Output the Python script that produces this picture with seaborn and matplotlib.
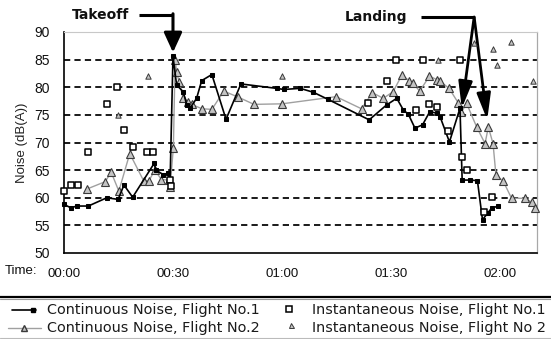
import matplotlib
matplotlib.use("Agg")
import matplotlib.pyplot as plt
from matplotlib.lines import Line2D
import numpy as np
import pandas as pd
import seaborn as sns

# ---- data: time in minutes after the start of recording, noise in dB(A) ----
cont1_time = [0.0, 1.8, 3.7, 6.7, 11.8, 14.9, 16.5, 18.9, 24.8, 25.3, 27.3, 28.7, 29.2,
              30.0, 31.0, 32.8, 33.8, 34.7, 36.5, 37.9, 40.7, 44.6, 48.7, 58.5, 60.5,
              65.0, 68.6, 72.7, 84.0, 88.8, 91.6, 93.4, 94.8, 96.6, 98.7, 100.7, 102.6,
              103.5, 106.1, 109.0, 109.6, 111.8, 113.8, 115.2, 116.7, 117.7, 119.5]
cont1_noise = [58.8, 58.2, 58.5, 58.5, 60.0, 59.7, 62.3, 60.1, 66.2, 65.0, 64.2, 64.4, 62.9,
               85.6, 80.4, 79.2, 76.8, 76.2, 78.0, 81.2, 82.3, 74.2, 80.6, 79.8, 79.6,
               79.8, 79.1, 77.8, 74.1, 76.8, 78.0, 75.9, 75.1, 72.6, 73.2, 75.6, 75.3,
               74.7, 70.1, 76.2, 63.2, 63.2, 63.1, 56.0, 57.3, 58.1, 58.5]

cont2_time = [6.4, 11.3, 13.0, 15.1, 18.1, 21.9, 23.4, 25.0, 26.8, 28.9, 29.2, 30.1,
              30.6, 31.0, 31.7, 32.8, 34.1, 35.1, 38.0, 40.7, 44.0, 48.0, 52.3, 60.0,
              74.9, 81.9, 84.9, 87.9, 90.6, 93.0, 95.0, 96.0, 97.9, 100.6, 102.6, 103.5,
              106.0, 108.5, 109.4, 110.8, 113.6, 115.9, 116.8, 118.1, 118.9, 120.9,
              123.2, 126.9, 128.7, 129.6]
cont2_noise = [61.6, 62.9, 64.6, 61.2, 68.0, 63.1, 63.1, 65.0, 63.3, 63.2, 62.0, 69.0,
               85.0, 82.7, 81.0, 78.0, 77.3, 76.9, 76.1, 76.0, 79.3, 78.2, 76.9, 77.0,
               78.3, 76.1, 79.0, 78.0, 79.2, 82.2, 81.2, 80.8, 79.3, 82.0, 81.4, 81.1,
               79.8, 77.2, 75.5, 77.1, 72.8, 69.8, 72.8, 69.8, 64.1, 63.0,
               59.9, 59.9, 59.2, 58.1]

inst1_time = [0.0, 1.9, 3.9, 6.7, 11.8, 14.5, 16.6, 19.1, 22.8, 24.6, 29.2, 29.4,
              83.8, 88.8, 91.4, 96.8, 98.7, 100.6, 102.8, 105.8, 108.9, 109.5, 110.8,
              115.7, 117.7]
inst1_noise = [61.2, 62.3, 62.3, 68.2, 77.0, 80.0, 72.3, 69.1, 68.2, 68.2, 63.3, 62.2,
               77.1, 81.2, 85.0, 75.9, 85.0, 76.9, 76.5, 72.1, 85.0, 67.3, 65.0,
               57.5, 60.1]

inst2_time = [14.9, 23.0, 59.9, 103.0, 112.8, 118.0, 119.1, 123.0, 129.1]
inst2_noise = [75.0, 82.0, 82.0, 85.0, 88.0, 86.9, 84.0, 88.2, 81.1]

time_ticks = [0, 30, 60, 90, 120]
time_labels = ["00:00", "00:30", "01:00", "01:30", "02:00"]
noise_ticks = [50, 55, 60, 65, 70, 75, 80, 85, 90]

legend_labels = ["Continuous Noise, Flight No.1", "Continuous Noise, Flight No.2",
                 "Instantaneous Noise, Flight No.1", "Instantaneous Noise, Flight No 2"]

# ---- figure ----
sns.set_theme(style="white")
plt.rcParams["font.family"] = ["DejaVu Sans"]
plt.rcParams["lines.scale_dashes"] = False

W, H = 551, 339
fig = plt.figure(figsize=(W / 100, H / 100), dpi=100)
fig.patch.set_facecolor("white")


def fx(px):
    return px / W


def fy(py):
    return 1 - py / H


ax = fig.add_axes([fx(64), fy(253), fx(537) - fx(64), fy(32) - fy(253)])
ax.set_facecolor("white")

# dashed horizontal guides
for lvl in noise_ticks[1:-1]:
    ax.axhline(lvl, color="#1a1a1a", lw=1.4, ls=(0, (4.5, 3.0)), zorder=1)

df_c1 = pd.DataFrame({"time": cont1_time, "noise": cont1_noise})
df_c2 = pd.DataFrame({"time": cont2_time, "noise": cont2_noise})
df_i1 = pd.DataFrame({"time": inst1_time, "noise": inst1_noise})
df_i2 = pd.DataFrame({"time": inst2_time, "noise": inst2_noise})

sns.lineplot(data=df_c2, x="time", y="noise", ax=ax, sort=False, estimator=None,
             color="#a0a0a0", lw=1.0, marker="^", markersize=5.4,
             markerfacecolor="#c4c4c4", markeredgecolor="#3a3a3a", markeredgewidth=0.8,
             zorder=3, clip_on=False)
sns.lineplot(data=df_c1, x="time", y="noise", ax=ax, sort=False, estimator=None,
             color="black", lw=1.2, marker="s", markersize=3.0,
             markerfacecolor="black", markeredgecolor="black",
             zorder=4, clip_on=False)
sns.scatterplot(data=df_i1, x="time", y="noise", ax=ax, marker="s", s=25,
                facecolor="white", edgecolor="black", linewidth=1.1, zorder=5, clip_on=False)
sns.scatterplot(data=df_i2, x="time", y="noise", ax=ax, marker="^", s=15,
                facecolor="#c4c4c4", edgecolor="#3a3a3a", linewidth=0.7, zorder=5, clip_on=False)

ax.set_xlim(0, 130.2)
ax.set_ylim(50, 90)
ax.set_xticks(time_ticks)
ax.set_xticklabels(time_labels)
ax.set_yticks(noise_ticks)
ax.set_xlabel("")
ax.set_ylabel("Noise (dB(A))", fontsize=9.5, color="#222222", labelpad=5,
              family="Liberation Sans")
ax.tick_params(axis="both", direction="out", length=4, width=1, color="black",
               labelsize=10, labelcolor="#111111", pad=6)
ax.tick_params(axis="x", labelsize=9.5, pad=7)
for lab in ax.get_xticklabels() + ax.get_yticklabels():
    lab.set_family("Liberation Sans")

for side in ("left", "bottom"):
    ax.spines[side].set_color("black")
    ax.spines[side].set_linewidth(1.2)
ax.spines["top"].set_color("#c8c8c8")
ax.spines["top"].set_linewidth(0.8)
ax.spines["right"].set_color("#a8a8a8")
ax.spines["right"].set_linewidth(0.9)

fig.text(fx(5), fy(271), "Time:", ha="left", va="center", fontsize=9.5,
         family="Liberation Sans", color="#111111")

# ---- takeoff / landing callouts ----
head = dict(arrowstyle="-|>,head_length=12,head_width=5.5", mutation_scale=1,
            color="black", lw=2.2, shrinkA=0, shrinkB=0)
takeoff_t, takeoff_top, takeoff_tip = 30.0, 93.1, 86.3
ax.plot([takeoff_t - 34 / 3.633, takeoff_t], [takeoff_top, takeoff_top], color="black",
        lw=2.2, clip_on=False, solid_capstyle="butt")
ax.annotate("", xy=(takeoff_t, takeoff_tip), xytext=(takeoff_t, takeoff_top + 0.2),
            arrowprops=head, annotation_clip=False)
fig.text(fx(72), fy(15), "Takeoff", ha="left", va="center", fontsize=10,
         fontweight="bold", color="#111111")

land_t, land_top = 112.9, 92.7
ax.plot([land_t - 53 / 3.633, land_t], [land_top, land_top], color="black",
        lw=2.2, clip_on=False, solid_capstyle="butt")
land_head = dict(arrowstyle="-|>,head_length=16,head_width=4.2", mutation_scale=1,
                 color="black", lw=2.0, shrinkA=0, shrinkB=0)
ax.annotate("", xy=(109.5, 76.2), xytext=(land_t, land_top),
            arrowprops=land_head, annotation_clip=False)
ax.annotate("", xy=(116.5, 74.1), xytext=(land_t, land_top),
            arrowprops=land_head, annotation_clip=False)
fig.text(fx(345), fy(17), "Landing", ha="left", va="center", fontsize=10,
         fontweight="bold", color="#111111")

# ---- legend strip below the chart ----
fig.add_artist(Line2D([0, 1], [fy(296.5), fy(296.5)], transform=fig.transFigure,
                      color="black", lw=1.6))
fig.add_artist(Line2D([0, 1], [fy(299), fy(299)], transform=fig.transFigure,
                      color="#9a9a9a", lw=0.8))
fig.add_artist(Line2D([0, 1], [fy(338), fy(338)], transform=fig.transFigure,
                      color="#bbbbbb", lw=0.8))

row_y = [310, 328]
fig.add_artist(Line2D([fx(12), fx(33), fx(36)], [fy(row_y[0])] * 3, transform=fig.transFigure,
                      color="black", lw=1.2, marker="s", markersize=3.2,
                      markevery=[1], markerfacecolor="black"))
fig.add_artist(Line2D([fx(8), fx(24), fx(41)], [fy(row_y[1])] * 3, transform=fig.transFigure,
                      color="#a0a0a0", lw=1.0, marker="^", markersize=4.5,
                      markevery=[1], markerfacecolor="#c4c4c4", markeredgecolor="#3a3a3a"))
fig.add_artist(Line2D([fx(289)], [fy(row_y[0] - 1)], transform=fig.transFigure,
                      ls="none", marker="s", markersize=4.5, markerfacecolor="white",
                      markeredgecolor="black", markeredgewidth=1.1))
fig.add_artist(Line2D([fx(291)], [fy(row_y[1] - 3)], transform=fig.transFigure,
                      ls="none", marker="^", markersize=3.6, markerfacecolor="#c4c4c4",
                      markeredgecolor="#3a3a3a", markeredgewidth=0.7))
for i, lab in enumerate(legend_labels):
    col_x = 47 if i < 2 else 312
    fig.text(fx(col_x), fy(row_y[i % 2]), lab, ha="left", va="center", fontsize=10.4,
             color="#1a1a1a")

fig.savefig("out.png", dpi=100, facecolor="white")
